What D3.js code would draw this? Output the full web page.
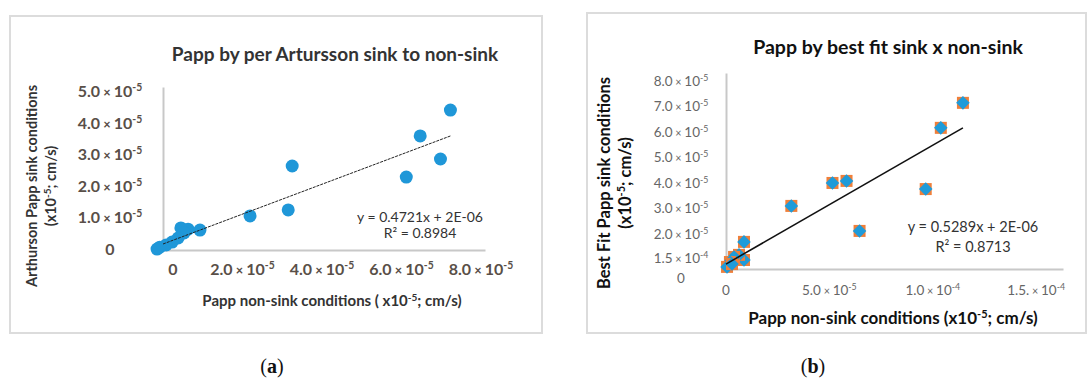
<!DOCTYPE html>
<html>
<head>
<meta charset="utf-8">
<script src="https://cdn.jsdelivr.net/npm/d3@7"></script>
<style>
body { margin: 0; background: #fff; }
svg { display: block; font-family: Lato, "Open Sans", sans-serif; }
</style>
</head>
<body>
<div id="chart"></div>
<script>
// all values in units of 1e-5 cm/s

// (a) Artursson sink vs non-sink
const aNonSink = [7.23, 6.47, 6.98, 6.12, 3.25, 3.15, 2.19, 0.93, 0.63, 0.45, 0.53, 0.38, 0.23, 0.08, -0.08, -0.15];
const aSink    = [4.43, 3.61, 2.88, 2.31, 2.66, 1.27, 1.08, 0.63, 0.66, 0.70, 0.54, 0.38, 0.25, 0.16, 0.09, 0.03];
const aTrend = [[0, 0.19], [7.23, 3.61]];
const aYTicks = [0, 1, 2, 3, 4, 5];
const aYLabels = ['0', '1.0', '2.0', '3.0', '4.0', '5.0'];
const aYExp = ['', '-5', '-5', '-5', '-5', '-5'];
const aXTicks = [0, 2, 4, 6, 8];
const aXLabels = ['0', '2.0', '4.0', '6.0', '8.0'];
const aXExp = ['', '-5', '-5', '-5', '-5'];

// (b) best fit sink vs non-sink
const bNonSink = [11.46, 10.39, 9.66, 5.83, 5.15, 3.16, 6.46, 0.87, 0.87, 0.63, 0.39, 0.19, 0.05, 0.29];
const bSink    = [7.18, 6.20, 3.80, 4.12, 4.04, 3.14, 2.16, 1.73, 1.02, 1.22, 1.14, 0.94, 0.75, 0.86];
const bTrend = [[0, 0.86], [11.46, 6.20]];
const bYTicks = [0.27, 1.05, 2, 3, 4, 5, 6, 7, 8];
const bYLabels = ['0', '1.5', '2.0', '3.0', '4.0', '5.0', '6.0', '7.0', '8.0'];
const bYExp = ['', '-4', '-5', '-5', '-5', '-5', '-5', '-5', '-5'];
const bXTicks = [0, 5, 10, 15];
const bXLabels = ['0', '5.0', '1.0', '1.5.'];
const bXExp = ['', '-5', '-4', '-4'];

const svg = d3.select('#chart').append('svg')
    .attr('width', 1088)
    .attr('height', 383);

// panel frames
svg.append('rect').attr('x', 10).attr('y', 16).attr('width', 532).attr('height', 317)
    .attr('fill', 'none').attr('stroke', '#dcdcdc').attr('stroke-width', 2);
svg.append('rect').attr('x', 587).attr('y', 13).attr('width', 499).attr('height', 320)
    .attr('fill', 'none').attr('stroke', '#dcdcdc').attr('stroke-width', 2);

function tickText(sel, labels, exps, size) {
    sel.text(i => labels[i]);
    sel.filter(i => exps[i] !== '')
        .append('tspan').text(' \u00d7 ')
        .style('font-size', (size * 0.8) + 'px');
    sel.filter(i => exps[i] !== '')
        .append('tspan').text('10');
    sel.filter(i => exps[i] !== '')
        .append('tspan').attr('dy', -size * 0.38).style('font-size', (size * 0.65) + 'px')
        .text(i => exps[i]);
}

// ---------- panel (a)
const ax = d3.scaleLinear().domain([0, 8.1]).range([163, 485]);
const ay = d3.scaleLinear().domain([0, 5.16]).range([250, 87]);

const ga = svg.append('g');
ga.append('g').attr('transform', 'translate(0,250)')
    .call(d3.axisBottom(ax).tickValues([]).tickSize(0))
    .select('.domain').attr('stroke', '#c8c8c8').attr('stroke-width', 2);
ga.append('g').attr('transform', 'translate(163,0)')
    .call(d3.axisLeft(ay).tickValues([]).tickSize(0))
    .select('.domain').attr('stroke', '#c8c8c8').attr('stroke-width', 2);

ga.append('g').selectAll('text').data(d3.range(aYTicks.length)).join('text')
    .attr('x', 110).attr('y', i => ay(aYTicks[i]) + 5)
    .attr('text-anchor', 'middle').attr('fill', '#594f48')
    .style('font-size', '16px').style('font-weight', 'bold')
    .call(tickText, aYLabels, aYExp, 16);

ga.append('g').selectAll('text').data(d3.range(aXTicks.length)).join('text')
    .attr('x', i => ax(aXTicks[i]) + (i === 0 ? 10 : 0)).attr('y', 275)
    .attr('text-anchor', 'middle').attr('fill', '#594f48')
    .style('font-size', '16px').style('font-weight', 'bold')
    .call(tickText, aXLabels, aXExp, 16);

ga.append('g').selectAll('circle').data(d3.range(aNonSink.length)).join('circle')
    .attr('cx', i => ax(aNonSink[i]))
    .attr('cy', i => ay(aSink[i]))
    .attr('r', 6.5)
    .attr('fill', '#1f97d8');

ga.append('path').datum(aTrend)
    .attr('d', d3.line().x(d => ax(d[0])).y(d => ay(d[1])))
    .attr('stroke', '#222').attr('stroke-width', 1).attr('stroke-dasharray', '3,1');

ga.append('text').attr('x', 420).attr('y', 222).attr('text-anchor', 'middle')
    .attr('fill', '#333').style('font-size', '14px').text('y = 0.4721x + 2E-06');
ga.append('text').attr('x', 420).attr('y', 238).attr('text-anchor', 'middle')
    .attr('fill', '#333').style('font-size', '14px').text('R\u00b2 = 0.8984');

ga.append('text').attr('x', 335).attr('y', 61).attr('text-anchor', 'middle')
    .attr('fill', '#333').style('font-size', '19px').style('font-weight', 'bold')
    .text('Papp by per Artursson sink to non-sink');

const aXT = ga.append('text').attr('x', 332).attr('y', 306).attr('text-anchor', 'middle')
    .attr('fill', '#333').style('font-size', '15px').style('font-weight', 'bold');
aXT.append('tspan').text('Papp non-sink conditions ( x10');
aXT.append('tspan').attr('dy', -5).style('font-size', '10px').text('-5');
aXT.append('tspan').attr('dy', 5).text('; cm/s)');

const aYT = ga.append('text').attr('transform', 'translate(37,186) rotate(-90)')
    .attr('text-anchor', 'middle').attr('fill', '#333')
    .style('font-size', '14.5px').style('font-weight', 'bold');
aYT.append('tspan').attr('x', 0).attr('y', 0).text('Arthurson Papp sink conditions');
aYT.append('tspan').attr('x', 0).attr('y', 19).text('(x10');
aYT.append('tspan').attr('dy', -5).style('font-size', '10px').text('-5');
aYT.append('tspan').attr('dy', 5).text('; cm/s)');

// ---------- panel (b)
const bx = d3.scaleLinear().domain([0, 16.3]).range([726, 1063]);
const by = d3.scaleLinear().domain([0.667, 8.35]).range([269, 73]);

const gb = svg.append('g');
gb.append('g').attr('transform', 'translate(0,269)')
    .call(d3.axisBottom(bx).tickValues([]).tickSize(0))
    .select('.domain').attr('stroke', '#c8c8c8').attr('stroke-width', 2);
gb.append('g').attr('transform', 'translate(726,0)')
    .call(d3.axisLeft(by).tickValues([]).tickSize(0))
    .select('.domain').attr('stroke', '#c8c8c8').attr('stroke-width', 2);

gb.append('g').selectAll('text').data(d3.range(bYTicks.length)).join('text')
    .attr('x', 681).attr('y', i => by(bYTicks[i]) + 4)
    .attr('text-anchor', 'middle').attr('fill', '#666')
    .style('font-size', '13.5px')
    .call(tickText, bYLabels, bYExp, 13.5);

gb.append('g').selectAll('text').data(d3.range(bXTicks.length)).join('text')
    .attr('x', i => bx(bXTicks[i])).attr('y', 295)
    .attr('text-anchor', 'middle').attr('fill', '#666')
    .style('font-size', '13.5px')
    .call(tickText, bXLabels, bXExp, 13.5);

const marks = gb.append('g').selectAll('g').data(d3.range(bNonSink.length)).join('g')
    .attr('transform', i => `translate(${bx(bNonSink[i])},${by(bSink[i])})`);
marks.append('rect').attr('x', -6).attr('y', -6).attr('width', 12).attr('height', 12)
    .attr('fill', '#ef7f3a');
marks.append('path').attr('d', d3.symbol(d3.symbolSquare, 92)())
    .attr('transform', 'rotate(45)').attr('fill', '#1f9bd9');

gb.append('path').datum(bTrend)
    .attr('d', d3.line().x(d => bx(d[0])).y(d => by(d[1])))
    .attr('stroke', '#111').attr('stroke-width', 1.6);

gb.append('text').attr('x', 973).attr('y', 232).attr('text-anchor', 'middle')
    .attr('fill', '#333').style('font-size', '14.5px').text('y = 0.5289x + 2E-06');
gb.append('text').attr('x', 973).attr('y', 252).attr('text-anchor', 'middle')
    .attr('fill', '#333').style('font-size', '14.5px').text('R\u00b2 = 0.8713');

gb.append('text').attr('x', 888).attr('y', 54).attr('text-anchor', 'middle')
    .attr('fill', '#111').style('font-size', '19.5px').style('font-weight', 'bold')
    .text('Papp by best fit sink x non-sink');

const bXT = gb.append('text').attr('x', 893).attr('y', 324).attr('text-anchor', 'middle')
    .attr('fill', '#111').style('font-size', '17px').style('font-weight', 'bold');
bXT.append('tspan').text('Papp non-sink conditions (x10');
bXT.append('tspan').attr('dy', -6).style('font-size', '11px').text('-5');
bXT.append('tspan').attr('dy', 6).text('; cm/s)');

const bYT = gb.append('text').attr('transform', 'translate(610,183) rotate(-90)')
    .attr('text-anchor', 'middle').attr('fill', '#111')
    .style('font-size', '16.5px').style('font-weight', 'bold');
bYT.append('tspan').attr('x', 0).attr('y', 0).text('Best Fit Papp sink conditions');
bYT.append('tspan').attr('x', 0).attr('y', 21).text('(x10');
bYT.append('tspan').attr('dy', -6).style('font-size', '11px').text('-5');
bYT.append('tspan').attr('dy', 6).text('; cm/s)');

// sub-figure captions
[['a', 272], ['b', 813]].forEach(([k, x]) => {
    const t = svg.append('text').attr('x', x).attr('y', 373).attr('text-anchor', 'middle')
        .style('font-family', '"Liberation Serif", serif').style('font-size', '20px').attr('fill', '#111');
    t.append('tspan').text('(');
    t.append('tspan').style('font-weight', 'bold').text(k);
    t.append('tspan').text(')');
});
</script>
</body>
</html>
